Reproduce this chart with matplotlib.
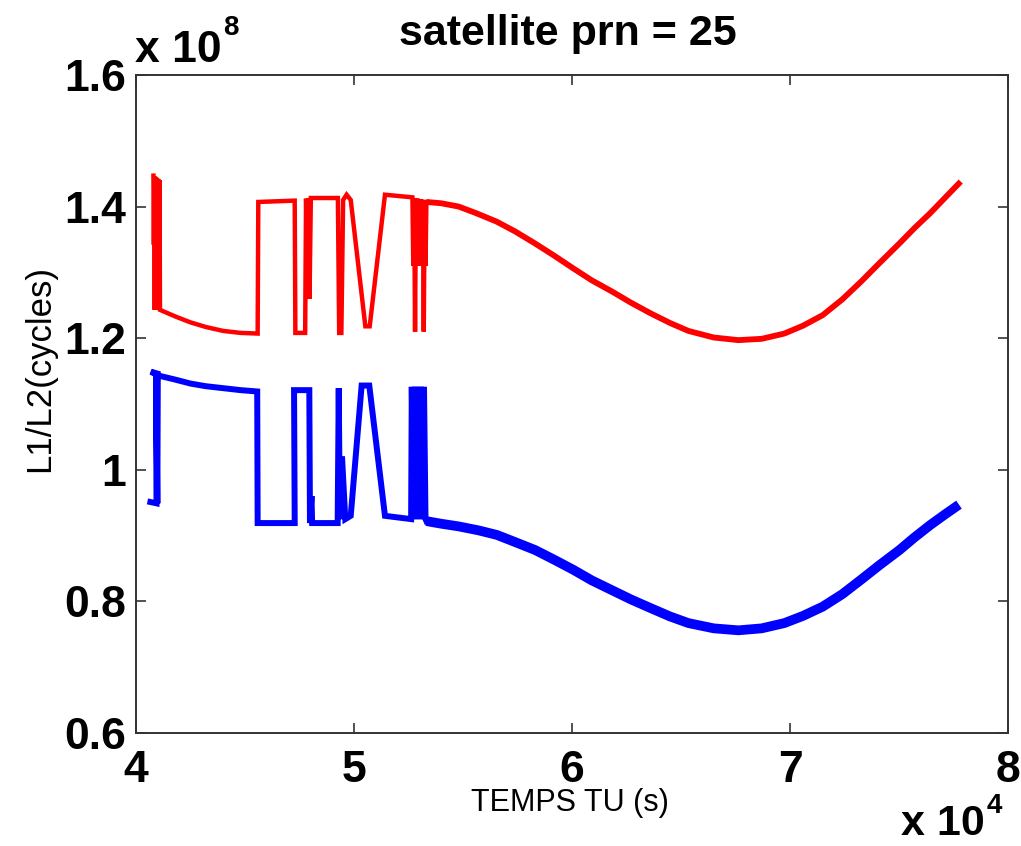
import matplotlib
matplotlib.use("Agg")
import matplotlib.pyplot as plt

plt.rcParams['font.family'] = ['Liberation Sans', 'DejaVu Sans']

# time in units of 1e4 s, phase in units of 1e8 cycles
l1_t = [4.080, 4.082, 4.084, 4.086, 4.088, 4.090, 4.092, 4.094, 4.096, 4.098,
        4.100, 4.102, 4.104, 4.106, 4.108, 4.110,
        4.180, 4.250, 4.320, 4.400, 4.480, 4.558, 4.561, 4.728, 4.731, 4.776,
        4.780, 4.786, 4.790, 4.796, 4.802, 4.926, 4.932, 4.942, 4.950, 4.966,
        4.985, 5.052, 5.072, 5.142, 5.268,
        5.272, 5.276, 5.280, 5.284, 5.288, 5.292, 5.296, 5.300, 5.304, 5.308,
        5.312, 5.316, 5.320, 5.324, 5.328, 5.332]
l1_v = [1.447, 1.342, 1.446, 1.243, 1.445, 1.243, 1.444, 1.243, 1.443, 1.243,
        1.442, 1.243, 1.441, 1.243, 1.440, 1.243,
        1.233, 1.224, 1.217, 1.211, 1.208, 1.207, 1.407, 1.409, 1.208, 1.208,
        1.412, 1.300, 1.413, 1.260, 1.413, 1.413, 1.208, 1.208, 1.410, 1.418,
        1.410, 1.218, 1.218, 1.418, 1.414,
        1.310, 1.413, 1.210, 1.412, 1.310, 1.412, 1.310, 1.411, 1.310, 1.411,
        1.310, 1.410, 1.210, 1.410, 1.310, 1.407]
l1_tail_t = [5.332, 5.400, 5.480, 5.560, 5.655, 5.740, 5.830, 5.920, 6.006,
             6.090, 6.183, 6.270, 6.359, 6.450, 6.534, 6.650, 6.763, 6.870,
             6.974, 7.060, 7.150, 7.240, 7.326, 7.410, 7.502, 7.570, 7.643,
             7.710, 7.783]
l1_tail_v = [1.407, 1.405, 1.400, 1.390, 1.377, 1.362, 1.344, 1.325, 1.306,
             1.288, 1.271, 1.254, 1.238, 1.223, 1.211, 1.201, 1.197, 1.199,
             1.207, 1.219, 1.235, 1.259, 1.286, 1.314, 1.344, 1.367, 1.390,
             1.413, 1.438]

l2_t = [4.066, 4.094, 4.092, 4.098, 4.100, 4.068, 4.105, 4.180, 4.250, 4.320,
        4.400, 4.480, 4.556, 4.558, 4.728, 4.725, 4.795, 4.798, 4.805, 4.808,
        4.925, 4.930, 4.935, 4.945, 4.960, 4.985, 5.035, 5.070, 5.142, 5.262,
        5.265, 5.272, 5.279, 5.286, 5.293, 5.300, 5.307, 5.314, 5.321, 5.328,
        5.332]
l2_v = [0.951, 0.949, 1.146, 0.949, 1.146, 1.149, 1.143, 1.137, 1.131, 1.127,
        1.124, 1.121, 1.119, 0.919, 0.919, 1.121, 1.121, 0.919, 0.960, 0.919,
        0.919, 1.124, 0.925, 1.020, 0.925, 0.930, 1.128, 1.128, 0.930, 0.925,
        1.126, 0.925, 1.126, 0.925, 1.126, 0.925, 1.126, 0.925, 1.126, 0.925,
        0.922]
l2_tail_t = [5.332, 5.400, 5.479, 5.570, 5.655, 5.740, 5.831, 5.920, 6.006,
             6.090, 6.183, 6.270, 6.359, 6.450, 6.534, 6.650, 6.763, 6.870,
             6.974, 7.060, 7.150, 7.240, 7.326, 7.410, 7.502, 7.570, 7.643,
             7.710, 7.775]
l2_tail_v = [0.922, 0.918, 0.914, 0.908, 0.901, 0.890, 0.878, 0.863, 0.848,
             0.832, 0.817, 0.803, 0.790, 0.777, 0.767, 0.759, 0.756, 0.759,
             0.767, 0.778, 0.792, 0.811, 0.833, 0.855, 0.878, 0.897, 0.916,
             0.932, 0.947]

xticks = [4, 5, 6, 7, 8]
yticks = [0.6, 0.8, 1.0, 1.2, 1.4, 1.6]
ytick_labels = ['0.6', '0.8', '1', '1.2', '1.4', '1.6']

fig = plt.figure(figsize=(10.21, 8.46), dpi=100)
ax = fig.add_axes([0.1332, 0.1336, 0.8541, 0.7778])

ax.plot(l1_t, l1_v, color='#ff0000', lw=3.2, solid_joinstyle='miter')
ax.plot(l1_tail_t, l1_tail_v, color='#ff0000', lw=4.2, solid_capstyle='butt')
ax.plot(l2_t, l2_v, color='#0000ff', lw=4.3, solid_joinstyle='miter')
ax.plot(l2_tail_t, l2_tail_v, color='#0000ff', lw=7.0, solid_capstyle='butt')

ax.set_xlim(4, 8)
ax.set_ylim(0.6, 1.6)
ax.set_xticks(xticks)
ax.set_xticklabels([str(t) for t in xticks])
ax.set_yticks(yticks)
ax.set_yticklabels(ytick_labels)
ax.tick_params(direction='in', length=7, width=1.2, top=True, right=True,
               labelsize=32, colors='#333333', labelcolor='black')
ax.tick_params(axis='x', pad=12)
ax.tick_params(axis='y', pad=7)
for lab in ax.get_xticklabels() + ax.get_yticklabels():
    lab.set_fontweight('bold')
for sp in ax.spines.values():
    sp.set_linewidth(1.4)
    sp.set_color('#333333')

fig.text(568 / 1021, 1 - 45 / 846, 'satellite prn = 25', ha='center', va='baseline',
         fontsize=31, fontweight='bold')
fig.text(570 / 1021, 1 - 811 / 846, 'TEMPS TU (s)', ha='center', va='baseline', fontsize=22)
fig.text(40 / 1021, 1 - 368 / 846, 'L1/L2(cycles)', ha='center', va='center',
         rotation=90, fontsize=25)

# exponent labels, MATLAB style
fig.text(135 / 1021, 1 - 62 / 846, 'x 10', ha='left', va='baseline', fontsize=32, fontweight='bold')
fig.text(223 / 1021, 1 - 35 / 846, '8', ha='left', va='baseline', fontsize=20, fontweight='bold')
fig.text(901 / 1021, 1 - 835 / 846, 'x 10', ha='left', va='baseline', fontsize=31, fontweight='bold')
fig.text(987 / 1021, 1 - 813 / 846, '4', ha='left', va='baseline', fontsize=20, fontweight='bold')

fig.savefig('out.png', dpi=100)
